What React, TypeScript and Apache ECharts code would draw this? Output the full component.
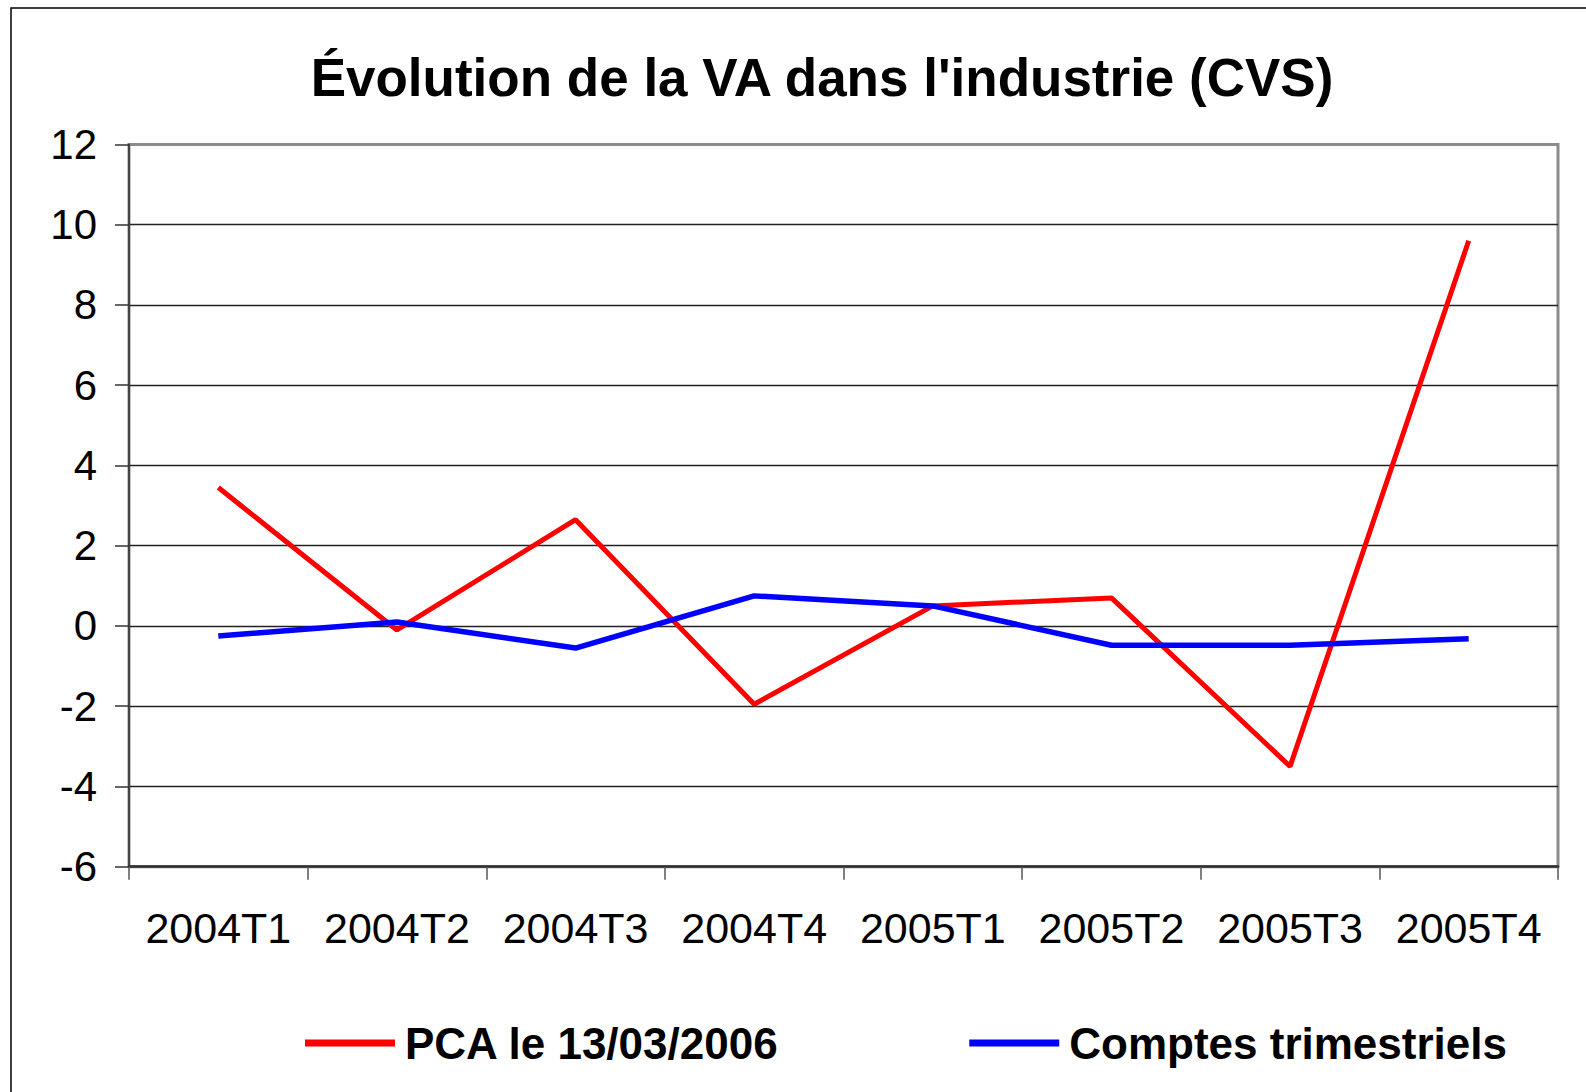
import React, { useEffect, useRef } from "react";
import * as echarts from "echarts";

const categories = ["2004T1", "2004T2", "2004T3", "2004T4", "2005T1", "2005T2", "2005T3", "2005T4"];
const pcaValues = [3.45, -0.1, 2.65, -1.95, 0.5, 0.7, -3.5, 9.6];
const comptesValues = [-0.25, 0.1, -0.55, 0.75, 0.5, -0.48, -0.48, -0.32];
const seriesNames = ["PCA le 13/03/2006", "Comptes trimestriels"];
const titleText = "Évolution de la VA dans l'industrie (CVS)";
const yMin = -6;
const yMax = 12;
const yInterval = 2;

export default function App() {
  const ref = useRef<HTMLDivElement>(null);
  useEffect(() => {
    document.body.style.margin = "0";
    if (!ref.current) return;
    const chart = echarts.init(ref.current, null, { renderer: "svg" });
    const font = "'Liberation Sans', Arial, sans-serif";
    chart.setOption({
      animation: false,
      backgroundColor: "#ffffff",
      title: {
        text: titleText,
        left: 817,
        textAlign: "center",
        top: 46,
        textStyle: { fontFamily: font, fontSize: 53, fontWeight: "bold", color: "#000" },
      },
      graphic: [
        {
          type: "rect",
          shape: { x: 11, y: 8, width: 1700, height: 1200 },
          style: { fill: "none", stroke: "#000", lineWidth: 1.5 },
          silent: true,
          z: -1,
        },
      ],
      legend: {
        left: 300,
        top: 1016,
        icon: "rect",
        itemWidth: 90,
        itemHeight: 7,
        itemGap: 190,
        textStyle: { fontFamily: font, fontSize: 44, fontWeight: "bold", color: "#000", padding: [0, 0, 0, 5] },
        data: seriesNames,
      },
      grid: {
        left: 129,
        top: 144.5,
        right: 28,
        bottom: 225.3,
        show: true,
        borderColor: "#8c8c8c",
        borderWidth: 3,
        backgroundColor: "#fff",
      },
      xAxis: {
        type: "category",
        data: categories,
        boundaryGap: true,
        axisLine: { show: true, onZero: false, lineStyle: { color: "#333", width: 2.5 } },
        axisTick: { show: true, interval: 0, length: 13, lineStyle: { color: "#555", width: 1.5 } },
        axisLabel: { interval: 0, margin: 40, fontFamily: font, fontSize: 43, color: "#000" },
        splitLine: { show: false },
      },
      yAxis: {
        type: "value",
        min: yMin,
        max: yMax,
        interval: yInterval,
        axisLine: { show: true, lineStyle: { color: "#444", width: 2 } },
        axisTick: { show: true, length: 14, lineStyle: { color: "#333", width: 1.5 } },
        axisLabel: { margin: 32, fontFamily: font, fontSize: 42, color: "#000" },
        splitLine: { show: true, showMaxLine: false, lineStyle: { color: "#222", width: 1.3 } },
      },
      series: [
        {
          name: seriesNames[0],
          type: "line",
          data: pcaValues,
          showSymbol: false,
          symbol: "none",
          itemStyle: { color: "#ff0000" },
          lineStyle: { color: "#ff0000", width: 5 },
          z: 3,
        },
        {
          name: seriesNames[1],
          type: "line",
          data: comptesValues,
          showSymbol: false,
          symbol: "none",
          itemStyle: { color: "#0000ff" },
          lineStyle: { color: "#0000ff", width: 5.5 },
          z: 4,
        },
      ],
    });
    return () => chart.dispose();
  }, []);
  return <div ref={ref} style={{ width: 1586, height: 1092 }} />;
}
